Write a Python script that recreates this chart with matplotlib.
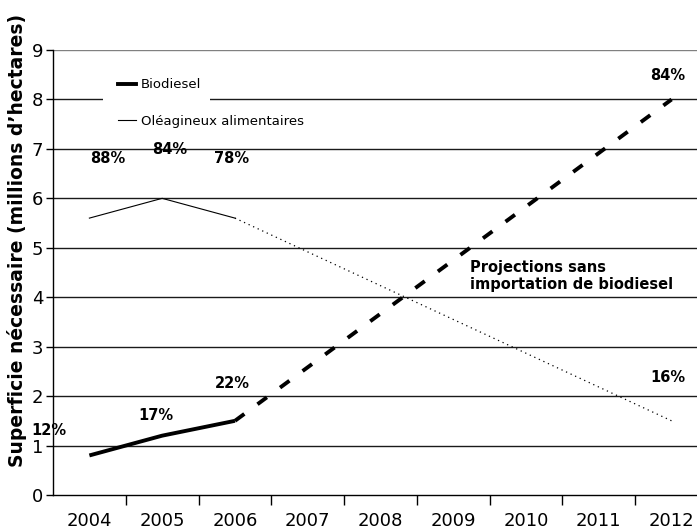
import matplotlib
matplotlib.use("Agg")
import matplotlib.pyplot as plt
from matplotlib.lines import Line2D
from matplotlib.patches import Rectangle

years = ["2004", "2005", "2006", "2007", "2008", "2009", "2010", "2011", "2012"]

# observed values 2004-2006, then projection to 2012 (millions of hectares)
biodiesel_obs = [0.8, 1.2, 1.5]
biodiesel_proj_end = 8.0
oleag_obs = [5.6, 6.0, 5.6]
oleag_proj_end = 1.5

biodiesel_pct = ["12%", "17%", "22%"]
biodiesel_pct_end = "84%"
oleag_pct = ["88%", "84%", "78%"]
oleag_pct_end = "16%"

plt.rcParams["font.family"] = ["DejaVu Sans"]

W, H = 697, 532
fig = plt.figure(figsize=(W / 100, H / 100), dpi=100)
left, right, bottom, top = 53, 708, 495, 50
ax = fig.add_axes([left / W, (H - bottom) / H, (right - left) / W, (bottom - top) / H])

xs = list(range(len(years)))
last = len(years) - 1
n_obs = len(biodiesel_obs)

# horizontal gridlines
for v in range(1, 10):
    ax.axhline(v, color="#808080" if v == 9 else "#1a1a1a", lw=1.0, zorder=1)

# observed series
ax.plot(xs[:n_obs], biodiesel_obs, color="black", lw=2.8, solid_capstyle="butt", zorder=3)
ax.plot(xs[:n_obs], oleag_obs, color="black", lw=0.8, zorder=3)
# projections
ax.plot([xs[n_obs - 1], xs[last]], [biodiesel_obs[-1], biodiesel_proj_end], color="black",
        lw=2.8, dashes=(3.0, 4.2), zorder=3)
ax.plot([xs[n_obs - 1], xs[last]], [oleag_obs[-1], oleag_proj_end], color="black",
        lw=0.9, dashes=(1.0, 3.0), zorder=3)

ax.set_xlim(-0.5, len(years) - 0.5)
ax.set_ylim(0, 9)
ax.set_yticks(range(0, 10))
ax.set_xticks([i + 0.5 for i in xs[:-1]], minor=False)
ax.set_xticklabels([])
ax.set_xticks(xs, minor=True)
ax.set_xticklabels(years, minor=True)
ax.tick_params(axis="x", which="major", length=7, width=1, direction="out")
ax.tick_params(axis="x", which="minor", length=0, pad=12, labelsize=13)
ax.tick_params(axis="y", length=5, width=1, labelsize=13, pad=2)
for s in ("top", "right"):
    ax.spines[s].set_visible(False)
ax.spines["left"].set_linewidth(1.0)
ax.spines["bottom"].set_linewidth(1.0)

ax.set_ylabel("Superficie nécessaire (millions d’hectares)", fontsize=13.5, fontweight="bold")
ax.yaxis.set_label_coords((27 - left) / (right - left), (bottom - 240) / (bottom - top))

# percentage labels
bold = dict(fontsize=10.5, fontweight="bold", ha="center", va="center",
            textcoords="offset pixels")
oil_off = [(18, 60), (8, 49), (-3, 60)]
bio_off = [(-41, 25), (-6, 20), (-3, 37)]
for i in range(n_obs):
    ax.annotate(oleag_pct[i], (xs[i], oleag_obs[i]), xytext=oil_off[i], **bold)
    ax.annotate(biodiesel_pct[i], (xs[i], biodiesel_obs[i]), xytext=bio_off[i], **bold)
ax.annotate(biodiesel_pct_end, (xs[last], biodiesel_proj_end), xytext=(-4, 24), **bold)
ax.annotate(oleag_pct_end, (xs[last], oleag_proj_end), xytext=(-4, 43), **bold)

ax.text(470 / W, (H - 276) / H, "Projections sans\nimportation de biodiesel",
        transform=fig.transFigure, fontsize=10.5, fontweight="bold", ha="left", va="center",
        linespacing=1.1)

# white legend area over the gridline
ax.add_patch(Rectangle((103 / W, (H - 136) / H), (210 - 103) / W, 70 / H,
                       transform=fig.transFigure, facecolor="white",
                       edgecolor="none", zorder=2, clip_on=False))

handles = [Line2D([], [], color="black", lw=2.8), Line2D([], [], color="black", lw=0.8)]
leg = fig.legend(handles, ["Biodiesel", "Oléagineux alimentaires"], loc="center left",
                 bbox_to_anchor=(118 / W, (H - 103) / H),
                 frameon=False, fontsize=9.5, handlelength=1.4, handletextpad=0.35,
                 labelspacing=1.75, borderpad=0, borderaxespad=0)

fig.savefig("out.png", dpi=100)
